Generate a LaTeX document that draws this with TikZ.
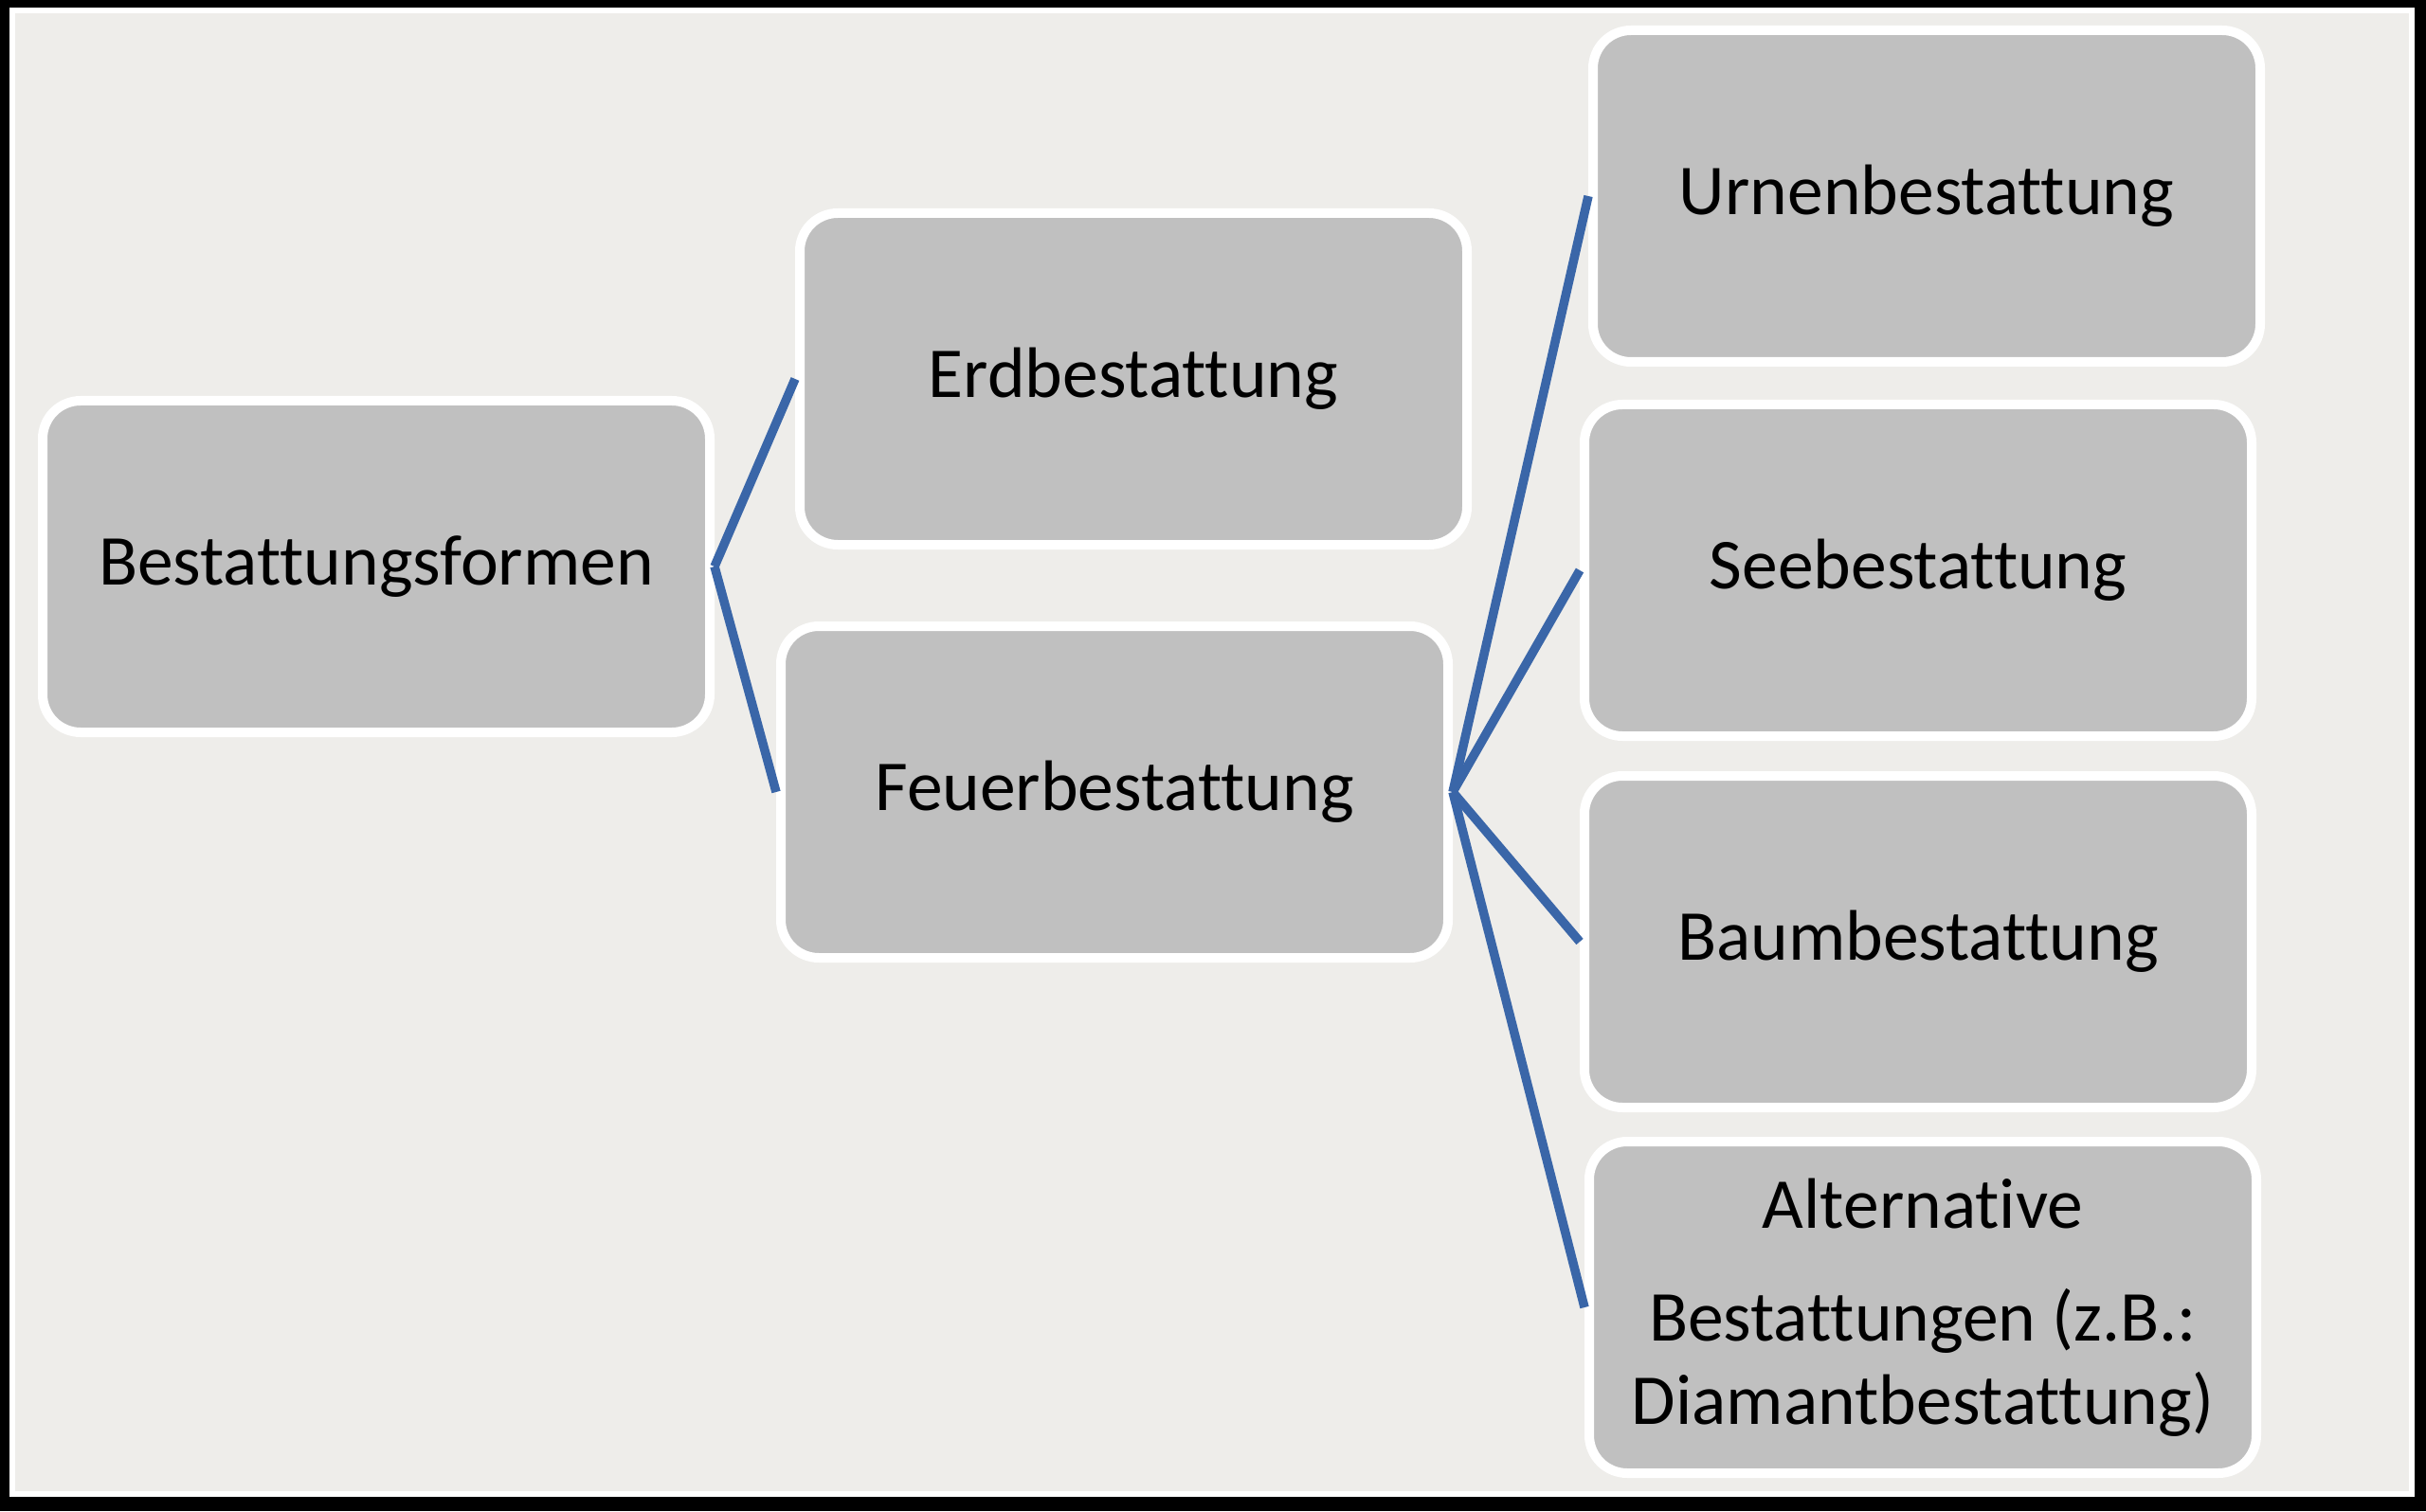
\documentclass[tikz,border=0pt]{standalone}
\usepackage{fontspec}
\setmainfont{Carlito}[Ligatures=CommonOff]
\definecolor{paper}{RGB}{238,237,234}
\definecolor{boxgray}{RGB}{192,192,192}
\definecolor{linkblue}{RGB}{58,102,168}
\begin{document}
\begin{tikzpicture}[
    box node/.style={rectangle,rounded corners=0.4cm,fill=boxgray,draw=white,line width=1mm,
        minimum width=7.04cm,minimum height=3.5cm,align=center,font=\fontsize{21.5}{25}\selectfont},
    link/.style={draw=linkblue,line width=2.7pt}]
        % frame
        \fill[black] (0,0) rectangle (25.6,15.95);
        \fill[white] (0.10,0.15) rectangle (25.48,15.87);
        \fill[paper] (0.16,0.21) rectangle (25.42,15.81);
        \useasboundingbox (0,0) rectangle (25.6,15.95);

        \node[box node] at (3.97, 9.97) (form) {Bestattungsformen};
        \node[box node] at (11.96, 11.95) (erd) {Erdbestattung};
        \node[box node] at (11.76, 7.59) (feuer) {Feuerbestattung};
        \node[box node] at (20.33, 13.88) (urne) {Urnenbestattung};
        \node[box node] at (20.24, 9.93) (see) {Seebestattung};
        \node[box node] at (20.24, 6.01) (baum) {Baumbestattung};
        \node[box node] at (20.29, 2.15) (alt) {Alternative\\[9pt]Bestattungen (z.B.:\\Diamantbestattung)};

        \path[every edge/.style={link}]
            (form.east) edge (erd.west)
            (form.east) edge (feuer.west)
            (feuer.east) edge (urne.west)
            (feuer.east) edge (see.west)
            (feuer.east) edge (baum.west)
            (feuer.east) edge (alt.west)
            ;
    \end{tikzpicture}
\end{document}
